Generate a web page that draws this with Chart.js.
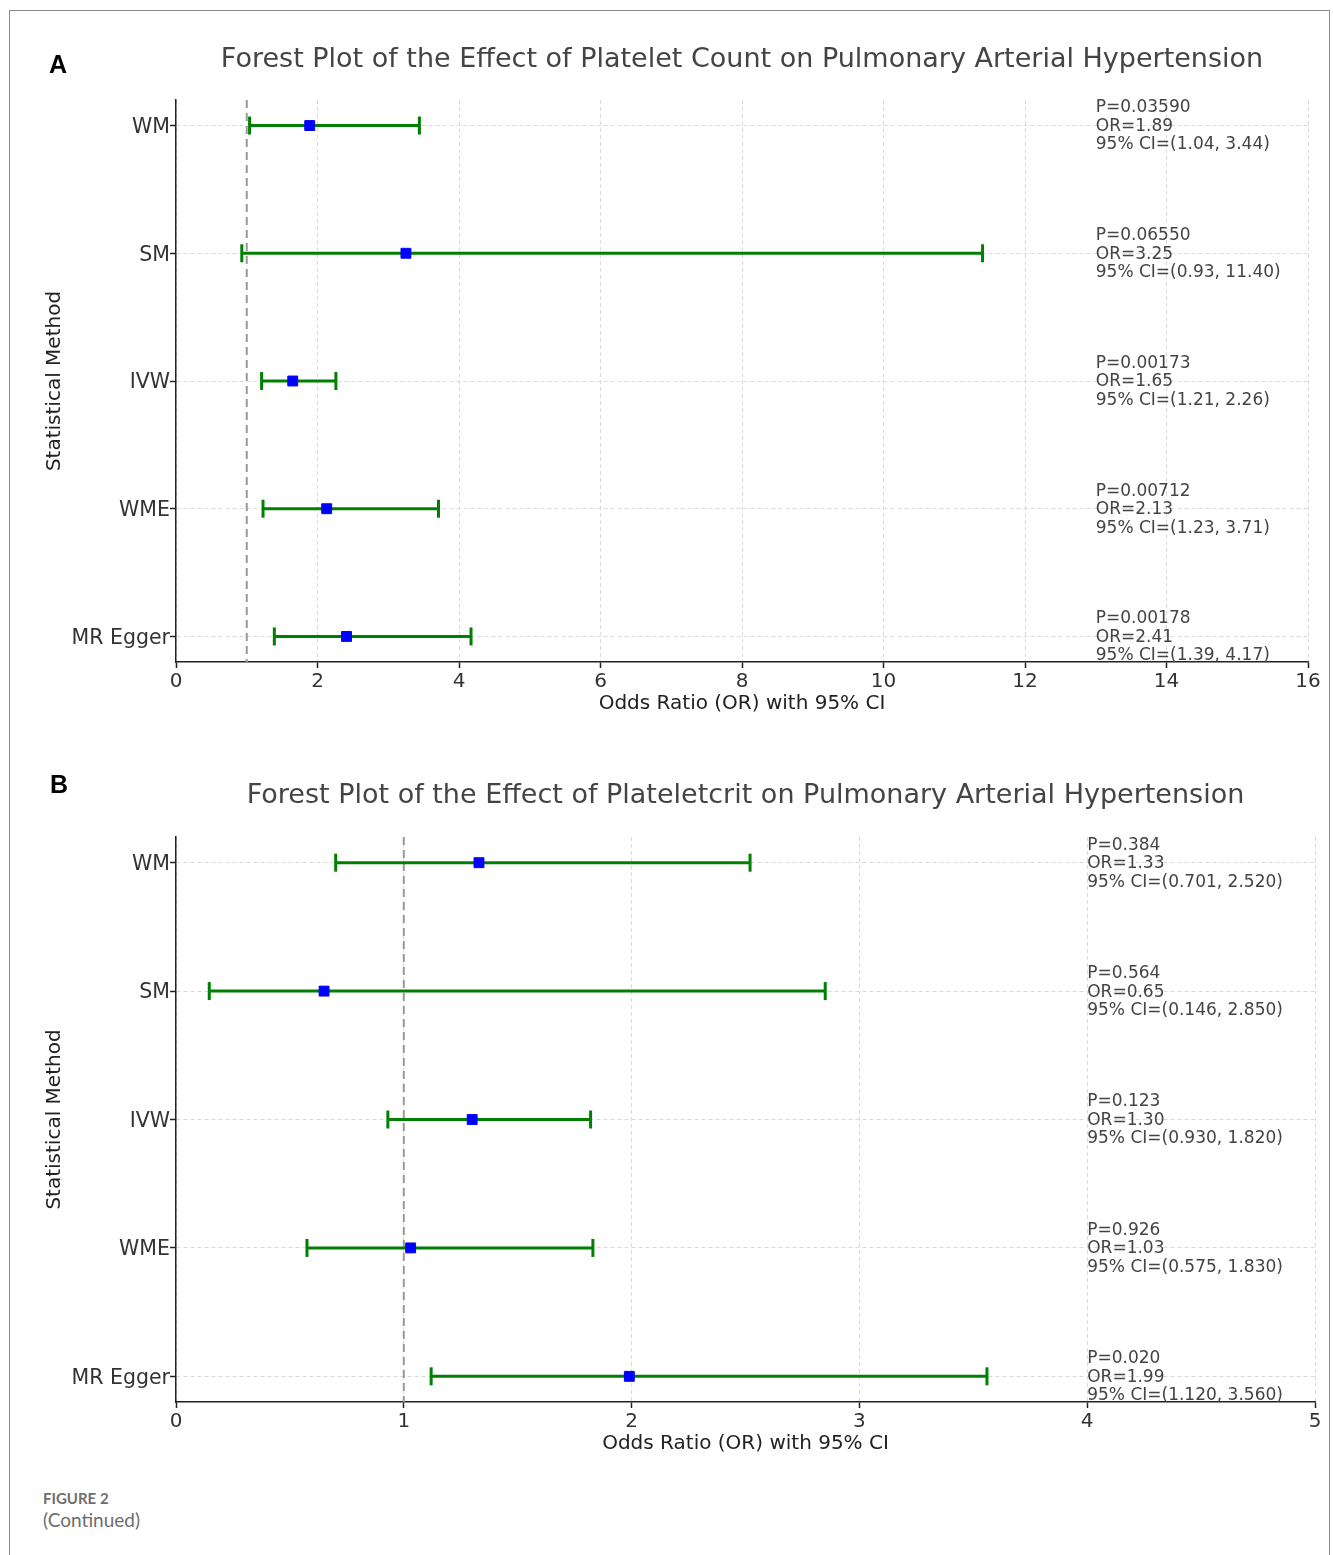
<!DOCTYPE html>
<html>
<head>
<meta charset="utf-8">
<script src="https://cdn.jsdelivr.net/npm/chart.js@4.4.1/dist/chart.umd.min.js"></script>
<style>
  body { margin: 0; background: #fff; width: 1333px; height: 1555px; position: relative; overflow: hidden; }
  .frame { position: absolute; left: 9px; top: 10px; width: 1319px; height: 1600px; border: 1px solid #8a8a8a; }
  .panel { position: absolute; font-family: "Liberation Sans", Arial, sans-serif; font-weight: bold; font-size: 25px; line-height: 25px; color: #000; }
  .chartbox { position: absolute; left: 0; }
  .cap1 { position: absolute; left: 43px; top: 1491px; font-family: Lato, "Open Sans", sans-serif; font-weight: bold; font-size: 15px; line-height: 15px; color: #6e6e6e; }
  .cap2 { position: absolute; left: 43px; top: 1510px; font-family: Lato, "Open Sans", sans-serif; font-size: 19px; line-height: 19px; color: #6e6e6e; }
</style>
</head>
<body>
<div class="frame"></div>
<div class="chartbox" style="top:0px"><canvas id="chartA" width="1333" height="730"></canvas></div>
<div class="chartbox" style="top:736px"><canvas id="chartB" width="1333" height="740"></canvas></div>
<div class="panel" style="left:49px; top:52px">A</div>
<div class="panel" style="left:50px; top:772px">B</div>
<div class="cap1">FIGURE 2</div>
<div class="cap2">(Continued)</div>
<script>
// categories (top to bottom)
const methods = ['WM', 'SM', 'IVW', 'WME', 'MR Egger'];

// Panel A: platelet count
const orA = [1.89, 3.25, 1.65, 2.13, 2.41];
const loA = [1.04, 0.93, 1.21, 1.23, 1.39];
const hiA = [3.44, 11.40, 2.26, 3.71, 4.17];
const pA = ['0.03590', '0.06550', '0.00173', '0.00712', '0.00178'];

// Panel B: plateletcrit
const orB = [1.33, 0.65, 1.30, 1.03, 1.99];
const loB = [0.701, 0.146, 0.930, 0.575, 1.120];
const hiB = [2.520, 2.850, 1.820, 1.830, 3.560];
const pB = ['0.384', '0.564', '0.123', '0.926', '0.020'];

const FONT = '"DejaVu Sans", sans-serif';

// reference line at OR=1 and the text next to each row
const forestExtras = {
  id: 'forestExtras',
  beforeDatasetsDraw(chart, args, opts) {
    const { ctx, chartArea, scales: { x } } = chart;
    const px = x.getPixelForValue(opts.refValue);
    ctx.save();
    ctx.strokeStyle = '#999';
    ctx.lineWidth = 2;
    ctx.setLineDash([8, 5]);
    ctx.beginPath();
    ctx.moveTo(px, chartArea.top);
    ctx.lineTo(px, chartArea.bottom);
    ctx.stroke();
    ctx.restore();
  },
  afterDatasetsDraw(chart, args, opts) {
    const { ctx, scales: { x, y } } = chart;
    ctx.save();
    ctx.font = '17px ' + FONT;
    ctx.fillStyle = '#444';
    ctx.textBaseline = 'middle';
    ctx.textAlign = 'left';
    const px = x.getPixelForValue(opts.textAt);
    opts.labels.forEach((lines, i) => {
      const py = y.getPixelForValue(i);
      lines.forEach((t, k) => ctx.fillText(t, px, py + 1 + (k - 1) * 18.5));
    });
    ctx.restore();
  }
};

function makeForest(id, cfg) {
  const markers = {
    data: cfg.or.map((v, i) => ({ x: v, y: i })),
    pointStyle: 'rect',
    pointRadius: 7,
    pointHoverRadius: 7,
    pointBackgroundColor: '#0000ff',
    pointBorderColor: '#0000ff',
    pointBorderWidth: 1
  };
  const ciLines = methods.map((m, i) => ({
    data: [{ x: cfg.lo[i], y: i }, { x: cfg.hi[i], y: i }],
    showLine: true,
    borderColor: '#008000',
    borderWidth: 3,
    pointStyle: 'line',
    rotation: 90,
    pointRadius: 9,
    pointHoverRadius: 9,
    pointBorderColor: '#008000',
    pointBorderWidth: 3
  }));
  const labels = methods.map((m, i) => [
    'P=' + cfg.p[i],
    'OR=' + cfg.or[i].toFixed(2),
    '95% CI=(' + cfg.lo[i].toFixed(cfg.dec) + ', ' + cfg.hi[i].toFixed(cfg.dec) + ')'
  ]);

  new Chart(document.getElementById(id), {
    type: 'scatter',
    data: { datasets: [markers, ...ciLines] },
    plugins: [forestExtras],
    options: {
      responsive: false,
      animation: false,
      layout: { padding: { left: 40, right: cfg.padRight, top: 0, bottom: cfg.padBottom } },
      plugins: {
        legend: { display: false },
        tooltip: { enabled: false },
        title: {
          display: true,
          fullSize: false,
          text: cfg.title,
          color: '#444',
          font: { family: FONT, size: 27, weight: 'normal' },
          padding: { top: 44, bottom: cfg.titleBottom }
        },
        forestExtras: { refValue: 1, textAt: cfg.textAt, labels: labels }
      },
      scales: {
        x: {
          type: 'linear',
          min: 0,
          max: cfg.xMax,
          ticks: { stepSize: cfg.xStep, color: '#333', font: { family: FONT, size: 20 }, padding: 2 },
          grid: { color: '#dadada', lineWidth: 1, tickLength: 6, tickColor: '#222', tickWidth: 1.5 },
          border: { color: '#222', width: 1.5, dash: [4, 3] },
          title: { display: true, text: 'Odds Ratio (OR) with 95% CI', color: '#222',
                   font: { family: FONT, size: 20 }, padding: { top: 0, bottom: 2 } },
          afterFit: s => { s.height = 56; }
        },
        y: {
          type: 'linear',
          reverse: true,
          min: -0.2,
          max: 4.2,
          afterBuildTicks: s => { s.ticks = methods.map((m, i) => ({ value: i })); },
          ticks: { callback: v => methods[v], color: '#333', font: { family: FONT, size: 20.5 },
                   padding: 0, labelOffset: 2 },
          grid: { color: '#dadada', lineWidth: 1, tickLength: 6, tickColor: '#222', tickWidth: 1.5 },
          border: { color: '#222', width: 1.5, dash: [4, 3] },
          title: { display: true, text: 'Statistical Method', color: '#222',
                   font: { family: FONT, size: 20 }, padding: { top: 3, bottom: 0 } },
          afterFit: s => { s.width = 136; }
        }
      }
    }
  });
}

makeForest('chartA', {
  title: 'Forest Plot of the Effect of Platelet Count on Pulmonary Arterial Hypertension',
  or: orA, lo: loA, hi: hiA, p: pA, dec: 2,
  xMax: 16, xStep: 2, textAt: 13,
  padRight: 25, padBottom: 12, titleBottom: 23.6
});

makeForest('chartB', {
  title: 'Forest Plot of the Effect of Plateletcrit on Pulmonary Arterial Hypertension',
  or: orB, lo: loB, hi: hiB, p: pB, dec: 3,
  xMax: 5, xStep: 1, textAt: 4,
  padRight: 18, padBottom: 18, titleBottom: 24.6
});
</script>
</body>
</html>
